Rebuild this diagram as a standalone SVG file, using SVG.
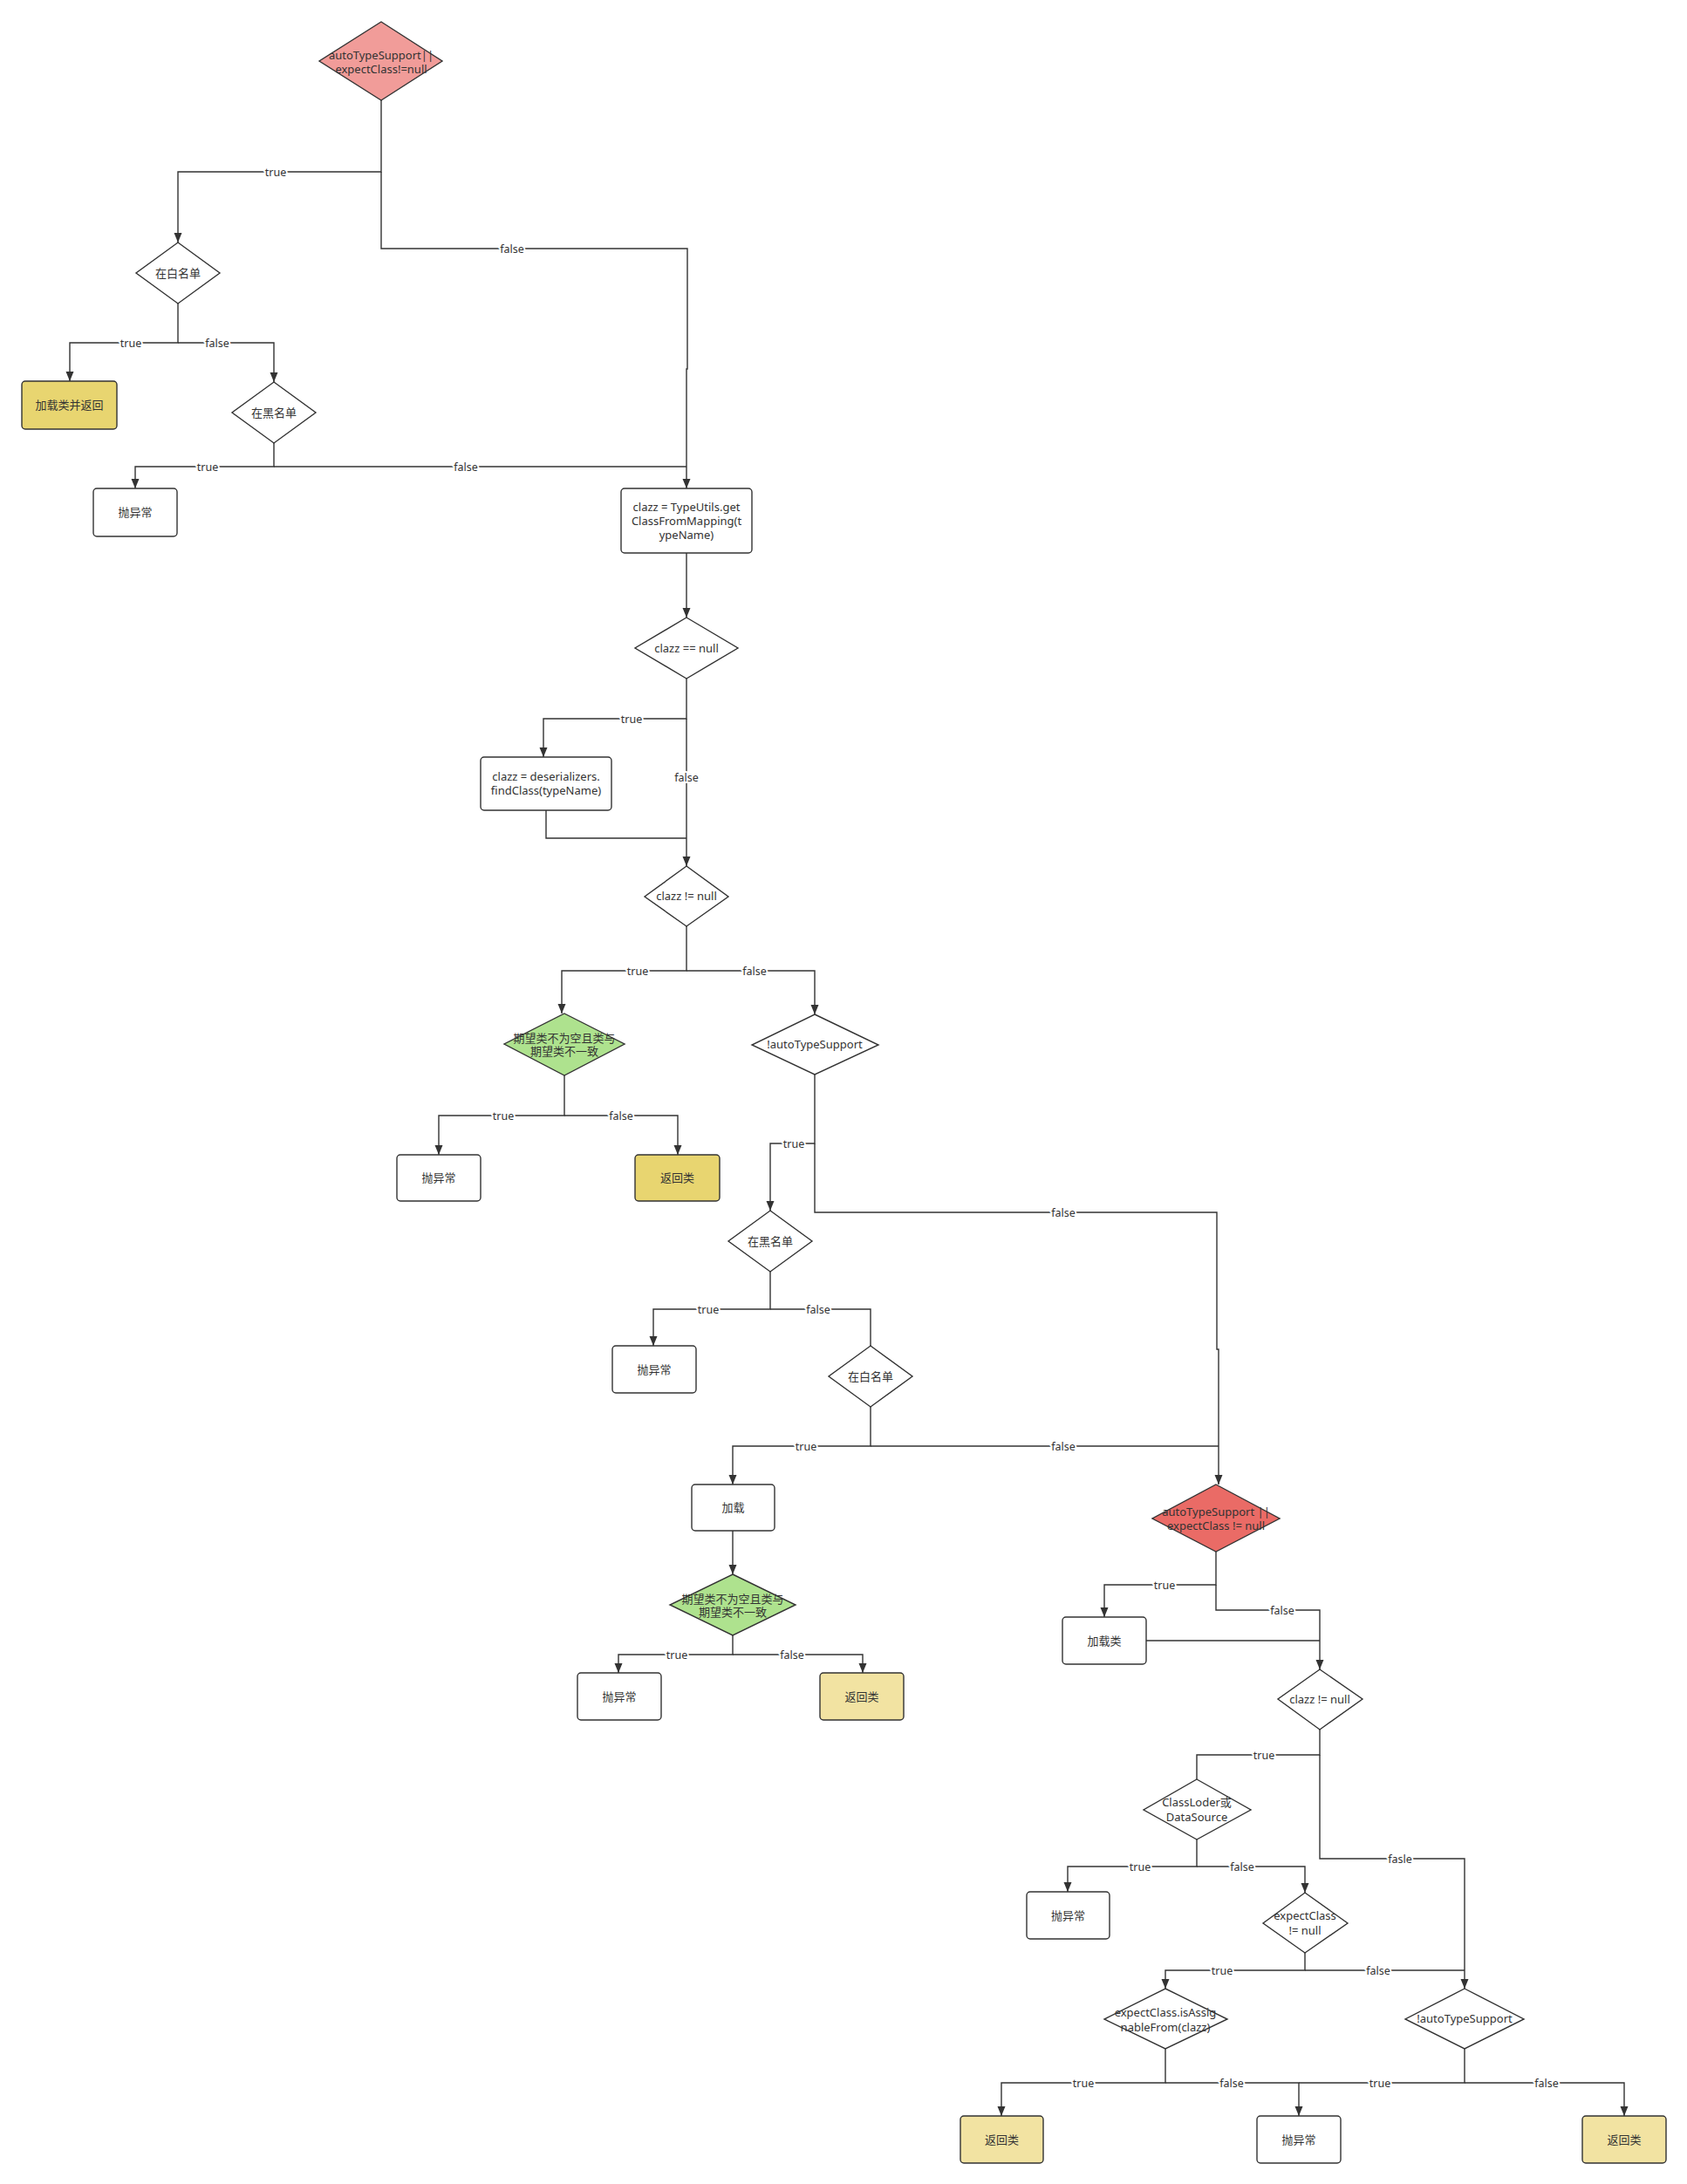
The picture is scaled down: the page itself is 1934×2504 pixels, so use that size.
<svg xmlns="http://www.w3.org/2000/svg" width="1934" height="2504" viewBox="0 0 1934 2504">
<defs>
<marker id="arr" markerUnits="userSpaceOnUse" markerWidth="12" markerHeight="10" refX="11" refY="4.5" orient="auto">
<path d="M0,0 L11,4.5 L0,9 z" fill="#333"/>
</marker>
<style>
.n{stroke:#333;stroke-width:1.4;fill:#fff}
.box{rx:4;ry:4}
.red1{fill:#F19C99}
.red2{fill:#EA6B66}
.grn{fill:#AEE28E}
.yel{fill:#E8D570}
.lyel{fill:#F2E3A2}
.t{font-family:"Noto Sans","Noto Sans CJK SC",sans-serif;font-size:13px;fill:#333;text-anchor:middle}
.e{fill:none;stroke:#333;stroke-width:1.4}
.l{font-family:"Noto Sans","Noto Sans CJK SC",sans-serif;font-size:12.5px;fill:#333;text-anchor:middle;stroke:#fff;stroke-width:4;paint-order:stroke;stroke-linejoin:round}
</style>
</defs>
<rect width="1934" height="2504" fill="#fff"/>

<g id="edges">
<path class="e" d="M437,115 V197 H204 V278" marker-end="url(#arr)"/>
<path class="e" d="M437,197 V285 H788 V423 H787 V560" marker-end="url(#arr)"/>
<path class="e" d="M204,348 V393 H80 V437" marker-end="url(#arr)"/>
<path class="e" d="M204,393 H314 V438" marker-end="url(#arr)"/>
<path class="e" d="M314,508 V535 H155 V560" marker-end="url(#arr)"/>
<path class="e" d="M314,535 H787"/>
<path class="e" d="M787,634 V708" marker-end="url(#arr)"/>
<path class="e" d="M787,778 V824 H623 V868" marker-end="url(#arr)"/>
<path class="e" d="M787,824 V993" marker-end="url(#arr)"/>
<path class="e" d="M626,929 V961 H787"/>
<path class="e" d="M787,1062 V1113 H644 V1162" marker-end="url(#arr)"/>
<path class="e" d="M787,1113 H934 V1163" marker-end="url(#arr)"/>
<path class="e" d="M647,1233 V1279 H503 V1324" marker-end="url(#arr)"/>
<path class="e" d="M647,1279 H777 V1324" marker-end="url(#arr)"/>
<path class="e" d="M934,1232 V1311 H883 V1388" marker-end="url(#arr)"/>
<path class="e" d="M934,1311 V1390 H1395 V1547 H1397 V1702" marker-end="url(#arr)"/>
<path class="e" d="M883,1458 V1501 H749 V1543" marker-end="url(#arr)"/>
<path class="e" d="M883,1501 H998 V1543"/>
<path class="e" d="M998,1613 V1658 H840 V1702" marker-end="url(#arr)"/>
<path class="e" d="M998,1658 H1397"/>
<path class="e" d="M840,1755 V1805" marker-end="url(#arr)"/>
<path class="e" d="M840,1875 V1897 H709 V1918" marker-end="url(#arr)"/>
<path class="e" d="M840,1897 H989 V1918" marker-end="url(#arr)"/>
<path class="e" d="M1394,1779 V1817 H1266 V1854" marker-end="url(#arr)"/>
<path class="e" d="M1394,1817 V1846 H1513 V1914" marker-end="url(#arr)"/>
<path class="e" d="M1314,1881 H1513"/>
<path class="e" d="M1513,1983 V2012 H1372 V2040"/>
<path class="e" d="M1513,2012 V2131 H1679 V2280" marker-end="url(#arr)"/>
<path class="e" d="M1372,2109 V2140 H1224 V2169" marker-end="url(#arr)"/>
<path class="e" d="M1372,2140 H1496 V2170" marker-end="url(#arr)"/>
<path class="e" d="M1496,2239 V2259 H1336 V2280" marker-end="url(#arr)"/>
<path class="e" d="M1496,2259 H1679"/>
<path class="e" d="M1336,2349 V2388 H1148 V2426" marker-end="url(#arr)"/>
<path class="e" d="M1336,2388 H1489 V2426" marker-end="url(#arr)"/>
<path class="e" d="M1679,2349 V2388 H1489"/>
<path class="e" d="M1679,2388 H1862 V2426" marker-end="url(#arr)"/>

<text class="l" x="316" y="201.5">true</text>
<text class="l" x="587" y="289.5">false</text>
<text class="l" x="150" y="397.5">true</text>
<text class="l" x="249" y="397.5">false</text>
<text class="l" x="238" y="539.5">true</text>
<text class="l" x="534" y="539.5">false</text>
<text class="l" x="724" y="828.5">true</text>
<text class="l" x="787" y="895.5">false</text>
<text class="l" x="731" y="1117.5">true</text>
<text class="l" x="865" y="1117.5">false</text>
<text class="l" x="577" y="1283.5">true</text>
<text class="l" x="712" y="1283.5">false</text>
<text class="l" x="910" y="1315.5">true</text>
<text class="l" x="1219" y="1394.5">false</text>
<text class="l" x="812" y="1505.5">true</text>
<text class="l" x="938" y="1505.5">false</text>
<text class="l" x="924" y="1662.5">true</text>
<text class="l" x="1219" y="1662.5">false</text>
<text class="l" x="776" y="1901.5">true</text>
<text class="l" x="908" y="1901.5">false</text>
<text class="l" x="1335" y="1821.5">true</text>
<text class="l" x="1470" y="1850.5">false</text>
<text class="l" x="1449" y="2016.5">true</text>
<text class="l" x="1605" y="2135.5">fasle</text>
<text class="l" x="1307" y="2144.5">true</text>
<text class="l" x="1424" y="2144.5">false</text>
<text class="l" x="1401" y="2263.5">true</text>
<text class="l" x="1580" y="2263.5">false</text>
<text class="l" x="1242" y="2392.5">true</text>
<text class="l" x="1412" y="2392.5">false</text>
<text class="l" x="1582" y="2392.5">true</text>
<text class="l" x="1773" y="2392.5">false</text>
</g>

<g id="n1"><polygon class="n red1" points="437,25 507,70 437,115 366,70"/><text class="t" x="437" y="68">autoTypeSupport||</text><text class="t" x="437" y="84">expectClass!=null</text></g>
<g id="n2"><polygon class="n" points="204,278 252,313 204,348 156,313"/><text class="t" x="204" y="317.5">在白名单</text></g>
<g id="n3"><rect class="n box yel" x="25" y="437" width="109" height="55"/><text class="t" x="79.5" y="469">加载类并返回</text></g>
<g id="n4"><polygon class="n" points="314,438 362,473 314,508 266,473"/><text class="t" x="314" y="477.5">在黑名单</text></g>
<g id="n5"><rect class="n box" x="107" y="560" width="96" height="55"/><text class="t" x="155" y="592">抛异常</text></g>
<g id="n6"><rect class="n box" x="712" y="560" width="150" height="74"/><text class="t" x="787" y="586">clazz = TypeUtils.get</text><text class="t" x="787" y="602">ClassFromMapping(t</text><text class="t" x="787" y="618">ypeName)</text></g>
<g id="n7"><polygon class="n" points="787,708 846,743 787,778 728,743"/><text class="t" x="787" y="747.5">clazz == null</text></g>
<g id="n8"><rect class="n box" x="551" y="868" width="150" height="61"/><text class="t" x="626" y="895">clazz = deserializers.</text><text class="t" x="626" y="911">findClass(typeName)</text></g>
<g id="n9"><polygon class="n" points="787,993 835,1028 787,1062 739,1028"/><text class="t" x="787" y="1032">clazz != null</text></g>
<g id="n10"><polygon class="n grn" points="647,1162 716,1197 647,1233 578,1197"/><text class="t" x="647" y="1195">期望类不为空且类与</text><text class="t" x="647" y="1210">期望类不一致</text></g>
<g id="n11"><rect class="n box" x="455" y="1324" width="96" height="53"/><text class="t" x="503" y="1355">抛异常</text></g>
<g id="n12"><rect class="n box yel" x="728" y="1324" width="97" height="53"/><text class="t" x="776.5" y="1355">返回类</text></g>
<g id="n13"><polygon class="n" points="934,1163 1007,1198 934,1232 862,1198"/><text class="t" x="934" y="1202">!autoTypeSupport</text></g>
<g id="n14"><polygon class="n" points="883,1388 931,1423 883,1458 835,1423"/><text class="t" x="883" y="1427.5">在黑名单</text></g>
<g id="n15"><rect class="n box" x="702" y="1543" width="96" height="54"/><text class="t" x="750" y="1574.5">抛异常</text></g>
<g id="n16"><polygon class="n" points="998,1543 1046,1578 998,1613 950,1578"/><text class="t" x="998" y="1582.5">在白名单</text></g>
<g id="n17"><rect class="n box" x="793" y="1702" width="95" height="53"/><text class="t" x="840.5" y="1733">加载</text></g>
<g id="n18"><polygon class="n grn" points="840,1805 912,1840 840,1875 768,1840"/><text class="t" x="840" y="1838">期望类不为空且类与</text><text class="t" x="840" y="1853">期望类不一致</text></g>
<g id="n19"><rect class="n box" x="662" y="1918" width="96" height="54"/><text class="t" x="710" y="1949.5">抛异常</text></g>
<g id="n20"><rect class="n box lyel" x="940" y="1918" width="96" height="54"/><text class="t" x="988" y="1949.5">返回类</text></g>
<g id="n21"><polygon class="n red2" points="1394,1702 1467,1741 1394,1779 1321,1741"/><text class="t" x="1394" y="1738">autoTypeSupport ||</text><text class="t" x="1394" y="1754">expectClass != null</text></g>
<g id="n22"><rect class="n box" x="1218" y="1854" width="96" height="54"/><text class="t" x="1266" y="1885.5">加载类</text></g>
<g id="n23"><polygon class="n" points="1513,1914 1562,1948 1513,1983 1465,1948"/><text class="t" x="1513" y="1952.5">clazz != null</text></g>
<g id="n24"><polygon class="n" points="1372,2040 1434,2075 1372,2109 1311,2075"/><text class="t" x="1372" y="2071">ClassLoder或</text><text class="t" x="1372" y="2088">DataSource</text></g>
<g id="n25"><rect class="n box" x="1177" y="2169" width="95" height="54"/><text class="t" x="1224.5" y="2200.5">抛异常</text></g>
<g id="n26"><polygon class="n" points="1496,2170 1545,2205 1496,2239 1448,2205"/><text class="t" x="1496" y="2201">expectClass</text><text class="t" x="1496" y="2217.5">!= null</text></g>
<g id="n27"><polygon class="n" points="1336,2280 1407,2315 1336,2349 1266,2315"/><text class="t" x="1336" y="2312">expectClass.isAssig</text><text class="t" x="1336" y="2328.5">nableFrom(clazz)</text></g>
<g id="n28"><polygon class="n" points="1679,2280 1747,2315 1679,2349 1611,2315"/><text class="t" x="1679" y="2319">!autoTypeSupport</text></g>
<g id="n29"><rect class="n box lyel" x="1101" y="2426" width="95" height="54"/><text class="t" x="1148.5" y="2457.5">返回类</text></g>
<g id="n30"><rect class="n box" x="1441" y="2426" width="96" height="54"/><text class="t" x="1489" y="2457.5">抛异常</text></g>
<g id="n31"><rect class="n box lyel" x="1814" y="2426" width="96" height="54"/><text class="t" x="1862" y="2457.5">返回类</text></g>
</svg>
